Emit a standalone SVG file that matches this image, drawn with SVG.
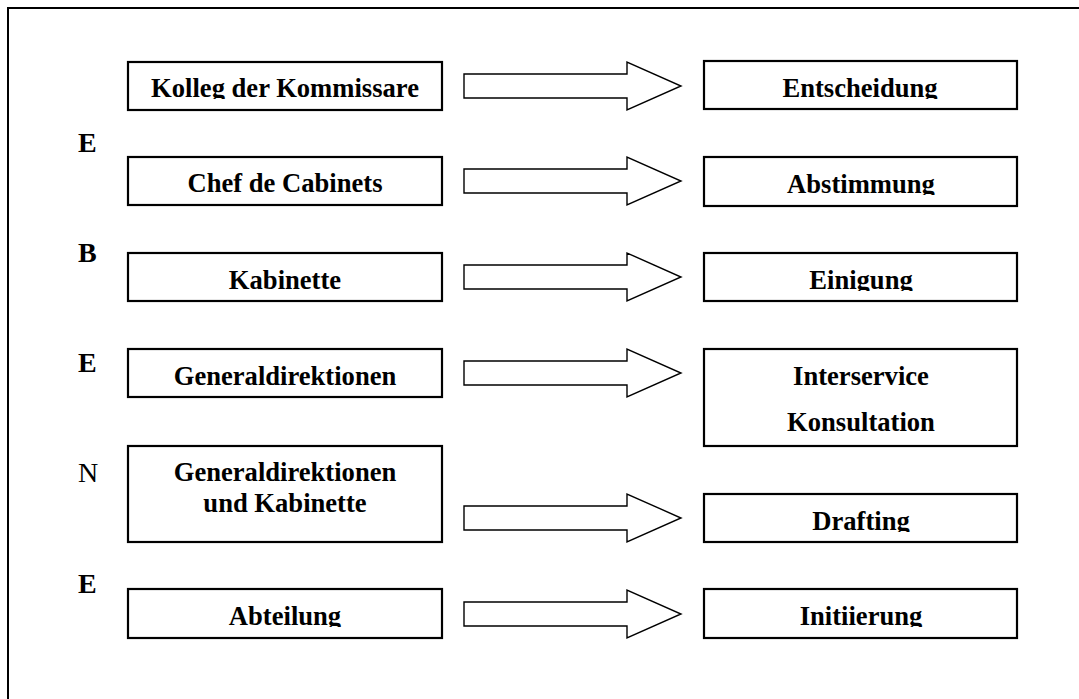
<svg xmlns="http://www.w3.org/2000/svg" width="1079" height="699" viewBox="0 0 1079 699">
  <style>
    .frame { fill: none; stroke: #000; stroke-width: 2; }
    .box { fill: #fff; stroke: #000; stroke-width: 2.2; }
    .arrow { fill: #fff; stroke: #000; stroke-width: 1.4; stroke-linejoin: miter; }
    .t { font-family: "Liberation Serif", "Times New Roman", serif; font-size: 26.6px; font-weight: bold; fill: #000; text-anchor: middle; }
    .lbl { font-family: "Liberation Serif", "Times New Roman", serif; font-size: 28px; font-weight: bold; fill: #000; }
    .lbl.reg { font-weight: normal; }
  </style>
  <defs>
    <!-- single-line labels are cut just below their baseline -->
    <clipPath id="c1" clipPathUnits="userSpaceOnUse"><rect x="0" y="55" width="1079" height="44"/></clipPath>
    <clipPath id="c2" clipPathUnits="userSpaceOnUse"><rect x="0" y="150" width="1079" height="45"/></clipPath>
    <clipPath id="c3" clipPathUnits="userSpaceOnUse"><rect x="0" y="246" width="1079" height="45"/></clipPath>
    <clipPath id="c4" clipPathUnits="userSpaceOnUse"><rect x="0" y="342" width="1079" height="45"/></clipPath>
    <clipPath id="c5" clipPathUnits="userSpaceOnUse"><rect x="0" y="487" width="1079" height="45"/></clipPath>
    <clipPath id="c6" clipPathUnits="userSpaceOnUse"><rect x="0" y="582" width="1079" height="45"/></clipPath>
    <path id="arr" d="M0,-12 H163 V-24 L217,0 L163,24 V12 H0 Z"/>
  </defs>

  <rect width="1079" height="699" fill="#fff"/>
  <rect class="frame" x="8" y="8" width="1090" height="710"/>

  <!-- side letters -->
  <g id="side-labels">
    <text class="lbl" x="78" y="152">E</text>
    <text class="lbl" x="78" y="262">B</text>
    <text class="lbl" x="78" y="372">E</text>
    <text class="lbl reg" x="78" y="482">N</text>
    <text class="lbl" x="78" y="593">E</text>
  </g>

  <!-- left column: actors -->
  <g id="kolleg">
    <rect class="box" x="128" y="62" width="314" height="48"/>
    <text class="t" x="285" y="97" clip-path="url(#c1)">Kolleg der Kommissare</text>
  </g>
  <g id="chef">
    <rect class="box" x="128" y="157" width="314" height="48"/>
    <text class="t" x="285" y="192" clip-path="url(#c2)">Chef de Cabinets</text>
  </g>
  <g id="kabinette">
    <rect class="box" x="128" y="253" width="314" height="48"/>
    <text class="t" x="285" y="289" clip-path="url(#c3)">Kabinette</text>
  </g>
  <g id="generaldirektionen">
    <rect class="box" x="128" y="349" width="314" height="48"/>
    <text class="t" x="285" y="385" clip-path="url(#c4)">Generaldirektionen</text>
  </g>
  <g id="gd-kabinette">
    <rect class="box" x="128" y="446" width="314" height="96"/>
    <text class="t" x="285" y="481">Generaldirektionen</text>
    <text class="t" x="285" y="512">und Kabinette</text>
  </g>
  <g id="abteilung">
    <rect class="box" x="128" y="589" width="314" height="49"/>
    <text class="t" x="285" y="625" clip-path="url(#c6)">Abteilung</text>
  </g>

  <!-- right column: stages -->
  <g id="entscheidung">
    <rect class="box" x="704" y="61" width="313" height="48"/>
    <text class="t" x="860" y="97" clip-path="url(#c1)">Entscheidung</text>
  </g>
  <g id="abstimmung">
    <rect class="box" x="704" y="157" width="313" height="49"/>
    <text class="t" x="861" y="193" clip-path="url(#c2)">Abstimmung</text>
  </g>
  <g id="einigung">
    <rect class="box" x="704" y="253" width="313" height="48"/>
    <text class="t" x="861" y="289" clip-path="url(#c3)">Einigung</text>
  </g>
  <g id="interservice">
    <rect class="box" x="704" y="349" width="313" height="97"/>
    <text class="t" x="861" y="385">Interservice</text>
    <text class="t" x="861" y="431">Konsultation</text>
  </g>
  <g id="drafting">
    <rect class="box" x="704" y="494" width="313" height="48"/>
    <text class="t" x="861" y="530" clip-path="url(#c5)">Drafting</text>
  </g>
  <g id="initiierung">
    <rect class="box" x="704" y="589" width="313" height="49"/>
    <text class="t" x="861" y="625" clip-path="url(#c6)">Initiierung</text>
  </g>

  <!-- block arrows -->
  <g id="connectors">
    <use href="#arr" class="arrow" x="464" y="86"/>
    <use href="#arr" class="arrow" x="464" y="181"/>
    <use href="#arr" class="arrow" x="464" y="277"/>
    <use href="#arr" class="arrow" x="464" y="373"/>
    <use href="#arr" class="arrow" x="464" y="518"/>
    <use href="#arr" class="arrow" x="464" y="614"/>
  </g>
</svg>
